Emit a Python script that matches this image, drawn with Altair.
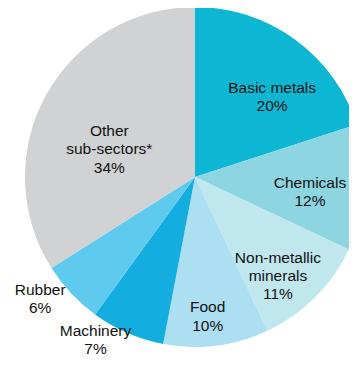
import math
import altair as alt
import pandas as pd

sectors = ["Basic metals", "Chemicals", "Non-metallic minerals", "Food",
           "Machinery", "Rubber", "Other sub-sectors*"]
shares = [20, 12, 11, 10, 7, 6, 34]
label_lines = [["Basic metals", "20%"], ["Chemicals", "12%"],
               ["Non-metallic", "minerals", "11%"], ["Food", "10%"],
               ["Machinery", "7%"], ["Rubber", "6%"],
               ["Other", "sub-sectors*", "34%"]]
colors = ["#0db7d3", "#8dd5e1", "#c0e6ee", "#addff3", "#13ade0", "#5ecbee", "#d0d2d3"]

# label placement (style): radius from centre and angular nudge in degrees
label_radius = [111, 116, 129, 140, 191, 197, 90]
label_nudge = [8, 4, 5, 2, 8, 5, -11]

CX, CY, R = 187, 169, 170

df = pd.DataFrame({"sector": sectors, "share": shares, "order": range(len(sectors))})

rows = []
cum = 0
for i, (s, v) in enumerate(zip(sectors, shares)):
    mid = (cum + v / 2) / sum(shares) * 360 + label_nudge[i]
    cum += v
    a = math.radians(mid)
    x = CX + label_radius[i] * math.sin(a)
    y = CY - label_radius[i] * math.cos(a)
    lines = label_lines[i]
    n = len(lines)
    for j, t in enumerate(lines):
        rows.append({"sector": s, "text": t, "x": x, "y": y + (j - (n - 1) / 2) * 18.3})
labels = pd.DataFrame(rows)

pie = alt.Chart(df).mark_arc(radius=R).encode(
    theta=alt.Theta("share:Q", stack=True),
    order=alt.Order("order:Q"),
    color=alt.Color("sector:N", scale=alt.Scale(domain=sectors, range=colors), legend=None),
    x=alt.value(CX),
    y=alt.value(CY),
)

text = alt.Chart(labels).mark_text(
    font="Liberation Sans", fontSize=15.5, color="#111111", align="center", baseline="middle"
).encode(
    x=alt.X("x:Q", scale=None),
    y=alt.Y("y:Q", scale=None),
    text="text:N",
)

chart = alt.layer(pie, text).properties(
    width=341, height=350, padding=0, autosize=alt.AutoSizeParams(type="none")
).configure_view(stroke=None)

chart.save("out.html", embed_options={"renderer": "svg", "actions": False})
